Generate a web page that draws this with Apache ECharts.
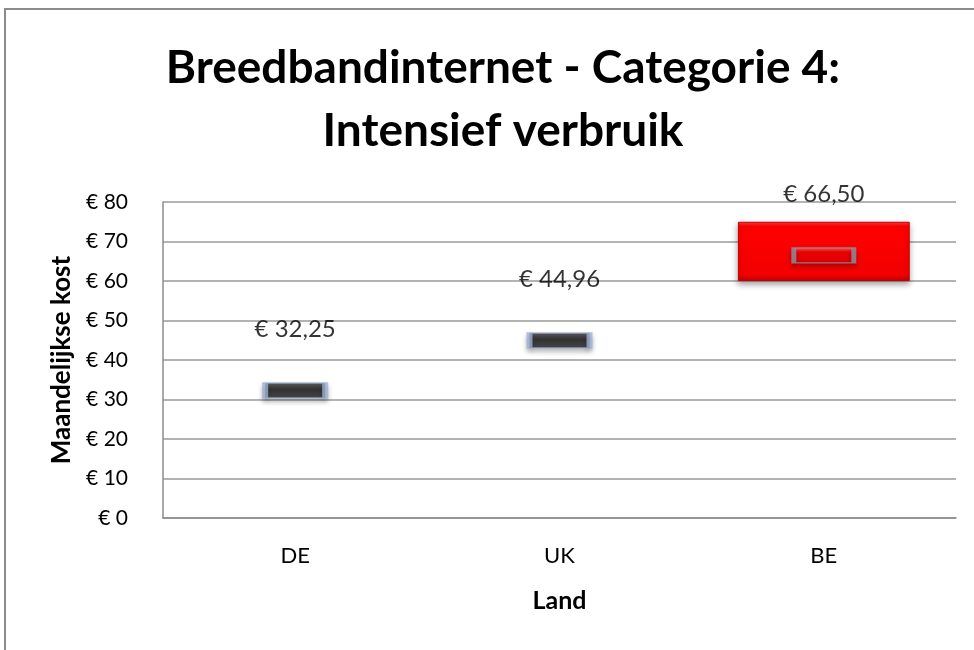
<!DOCTYPE html>
<html>
<head>
<meta charset="utf-8">
<style>
  html, body { margin: 0; padding: 0; background: #ffffff; }
  #chart { width: 974px; height: 650px; }
</style>
<script src="https://cdn.jsdelivr.net/npm/echarts@6/dist/echarts.min.js"></script>
</head>
<body>
<div id="chart"></div>
<script>
// Countries on the x axis
var categories = ['DE', 'UK', 'BE'];
// Monthly price per country (EUR)
var prices = [32.25, 44.96, 66.50];
// Price range shown as a box (only where a range exists)
var rangeLow = ['-', '-', 60];
var rangeHigh = ['-', '-', 75];
// Value axis ticks
var yMin = 0, yMax = 80, yStep = 10;

var rangeSpan = rangeHigh.map(function (h, i) {
  return (h === '-' || rangeLow[i] === '-') ? '-' : h - rangeLow[i];
});

function euro(v) {
  return '€ ' + v.toFixed(2).replace('.', ',');
}

var FONT = 'Lato';

var chart = echarts.init(document.getElementById('chart'), null, { renderer: 'canvas' });

chart.setOption({
  backgroundColor: '#ffffff',
  animation: false,
  title: {
    text: 'Breedbandinternet - Categorie 4:\nIntensief verbruik',
    left: 498,
    top: 32,
    textAlign: 'center',
    textStyle: {
      fontFamily: FONT,
      fontWeight: 'bold',
      fontSize: 46,
      lineHeight: 63,
      color: '#000000'
    }
  },
  graphic: [{
    type: 'rect',
    shape: { x: 5, y: 9, width: 1000, height: 700 },
    style: { fill: 'none', stroke: '#8c8c8c', lineWidth: 2 },
    silent: true,
    z: 100
  }],
  grid: { left: 163, right: 18, top: 202, bottom: 132 },
  xAxis: {
    type: 'category',
    data: categories,
    name: 'Land',
    nameLocation: 'middle',
    nameGap: 70,
    nameTextStyle: { fontFamily: FONT, fontWeight: 'bold', fontSize: 25, color: '#000' },
    axisLine: { lineStyle: { color: '#8c8c8c', width: 1.5 } },
    axisTick: { show: false },
    axisLabel: { fontFamily: FONT, fontSize: 22, color: '#000', margin: 27 }
  },
  yAxis: {
    type: 'value',
    min: yMin,
    max: yMax,
    interval: yStep,
    name: 'Maandelijkse kost',
    nameLocation: 'middle',
    nameGap: 88,
    nameTextStyle: { fontFamily: FONT, fontWeight: 'bold', fontSize: 26, color: '#000' },
    axisLine: { show: true, lineStyle: { color: '#8c8c8c', width: 1.5 } },
    axisTick: { show: false },
    axisLabel: {
      fontFamily: FONT, fontSize: 21, color: '#000', margin: 35,
      formatter: function (v) { return '€ ' + v; }
    },
    splitLine: { lineStyle: { color: '#9a9a9a', width: 1.5 } }
  },
  series: [
    {
      name: 'base',
      type: 'bar',
      stack: 'range',
      data: rangeLow,
      barWidth: '65%',
      itemStyle: { color: 'transparent' },
      silent: true
    },
    {
      name: 'range',
      type: 'bar',
      stack: 'range',
      data: rangeSpan,
      barWidth: '65%',
      itemStyle: {
        color: {
          type: 'linear', x: 0, y: 0, x2: 0, y2: 1,
          colorStops: [
            { offset: 0, color: '#ff3a3a' },
            { offset: 0.08, color: '#ff0000' },
            { offset: 0.9, color: '#f20000' },
            { offset: 1, color: '#c00000' }
          ]
        },
        borderColor: '#c40000',
        borderWidth: 1,
        shadowColor: 'rgba(0,0,0,0.35)',
        shadowBlur: 6,
        shadowOffsetY: 3
      }
    },
    {
      name: 'prijs',
      type: 'scatter',
      data: prices.map(function (p, i) {
        var inBox = rangeLow[i] !== '-';
        return {
          value: p,
          itemStyle: inBox ? {
            color: {
              type: 'linear', x: 0, y: 0, x2: 0, y2: 1,
              colorStops: [
                { offset: 0, color: '#ff7a7a' },
                { offset: 0.3, color: '#ff0000' },
                { offset: 1, color: '#e00000' }
              ]
            },
            borderColor: '#8a93a8',
            borderWidth: 2.5
          } : {
            color: {
              type: 'linear', x: 0, y: 0, x2: 0, y2: 1,
              colorStops: [
                { offset: 0, color: '#3a3a3a' },
                { offset: 0.45, color: '#111111' },
                { offset: 1, color: '#2a2a2a' }
              ]
            },
            borderColor: '#9eb1d6',
            borderWidth: 3
          }
        };
      }),
      symbol: 'rect',
      symbolSize: [60, 15],
      itemStyle: {
        shadowColor: 'rgba(0,0,0,0.35)',
        shadowBlur: 5,
        shadowOffsetY: 3
      },
      label: {
        show: true,
        position: 'top',
        distance: 41,
        fontFamily: FONT,
        fontSize: 24,
        color: '#000',
        formatter: function (p) { return euro(p.value); }
      },
      z: 5
    }
  ]
});
</script>
</body>
</html>
